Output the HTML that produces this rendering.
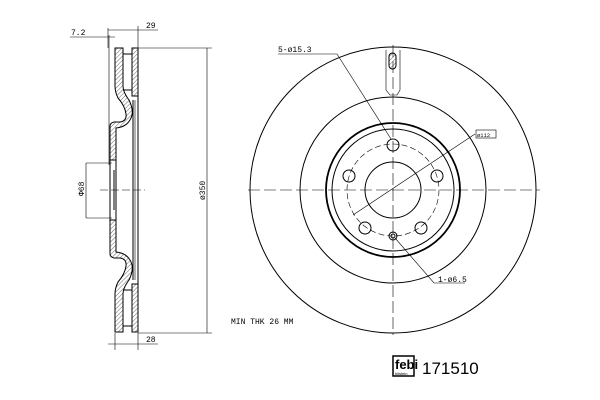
<!DOCTYPE html>
<html><head><style>body{margin:0;background:#fff}svg{display:block}</style></head><body>
<svg width="600" height="400" viewBox="0 0 600 400" xmlns="http://www.w3.org/2000/svg" font-family="Liberation Mono, monospace">
<defs><pattern id="h" width="3" height="3" patternUnits="userSpaceOnUse" patternTransform="rotate(45)"><line x1="0" y1="0" x2="0" y2="3" stroke="#444" stroke-width="0.8"/></pattern></defs>
<g stroke="#000" stroke-width="1" fill="none">
<!-- side view -->
<path d="M115,48 H123 V86 Q123,92 129,100 Q135,112 130,120 Q126,127 116,128 V160 H110 V126 Q110,123 114,122 H120 Q127,121 126,114 Q125,106 118,98 Q115,92 115,86 Z" fill="url(#h)"/>
<path d="M115,332 H123 V294 Q123,288 129,280 Q135,268 130,260 Q126,253 116,252 V220 H110 V254 Q110,257 114,258 H120 Q127,259 126,266 Q125,274 118,282 Q115,288 115,294 Z" fill="url(#h)"/>
<rect x="132" y="48" width="6" height="48" fill="url(#h)"/>
<rect x="132" y="284" width="6" height="48" fill="url(#h)"/>
<line x1="123" y1="54" x2="132" y2="54"/><line x1="123" y1="90" x2="132" y2="90"/>
<line x1="123" y1="326" x2="132" y2="326"/><line x1="123" y1="290" x2="132" y2="290"/>
<line x1="116" y1="128" x2="116" y2="252"/><line x1="133" y1="100" x2="133" y2="280"/><line x1="138" y1="96" x2="138" y2="284"/><line x1="135" y1="100" x2="135" y2="280" stroke-width="0.6"/>
<line x1="110" y1="160" x2="110" y2="220"/>
<line x1="114" y1="170" x2="114" y2="210"/>
<!-- dims -->
<line x1="138" y1="48" x2="212" y2="48" stroke-width="0.6"/><line x1="138" y1="333" x2="212" y2="333" stroke-width="0.6"/>
<line x1="207" y1="48" x2="207" y2="333" stroke-width="0.6"/>
<line x1="70" y1="37" x2="115" y2="37" stroke-width="0.6"/><line x1="108" y1="30" x2="158" y2="30" stroke-width="0.6"/>
<line x1="108" y1="28" x2="108" y2="48" stroke-width="0.6"/><line x1="138" y1="26" x2="138" y2="48" stroke-width="0.6"/>
<line x1="109" y1="35" x2="109" y2="165" stroke-width="0.6"/>
<line x1="108" y1="344" x2="158" y2="344" stroke-width="0.6"/><line x1="115" y1="333" x2="115" y2="350" stroke-width="0.6"/><line x1="138" y1="333" x2="138" y2="350" stroke-width="0.6"/>
<line x1="86" y1="163" x2="86" y2="218" stroke-width="0.6"/><line x1="86" y1="163" x2="112" y2="163" stroke-width="0.6"/><line x1="86" y1="218" x2="112" y2="218" stroke-width="0.6"/>
<line x1="100" y1="190" x2="145" y2="190" stroke-width="0.5" stroke-dasharray="8,3"/>
<!-- front view -->
<circle cx="393" cy="190" r="143"/>
<circle cx="393" cy="190" r="93"/>
<circle cx="393" cy="190" r="67" stroke-width="1.8"/>
<circle cx="393" cy="190" r="61"/>
<circle cx="393" cy="190" r="46" stroke-width="0.6" stroke-dasharray="6,3"/>
<circle cx="393" cy="190" r="28"/>
<circle cx="393" cy="145" r="6"/><circle cx="349" cy="176" r="6"/><circle cx="437" cy="176" r="6"/><circle cx="365" cy="228" r="6"/><circle cx="421" cy="228" r="6"/>
<circle cx="393" cy="236" r="4"/><circle cx="393" cy="236" r="2"/>
<rect x="389" y="53" width="7" height="16" rx="3.5" fill="url(#h)"/>
<path d="M386,50 V90 L390,95 H397 L400,90 V50" stroke-width="0.6"/>
<line x1="248" y1="190" x2="540" y2="190" stroke-width="0.6" stroke-dasharray="12,4"/>
<line x1="393" y1="45" x2="393" y2="335" stroke-width="0.6" stroke-dasharray="12,4"/>
<polyline points="278,54 337,54 391,139" stroke-width="0.6"/>
<line x1="353" y1="215" x2="475" y2="134" stroke-width="0.6"/>
<rect x="476" y="130" width="20" height="8" stroke-width="0.6"/>
<polyline points="395,238 434,283 465,283" stroke-width="0.6"/>
<!-- logo -->
<rect x="393" y="356" width="21" height="20" fill="#fff" stroke-width="1.5"/>
</g>
<g font-size="8" fill="#000">
<text x="71" y="35">7.2</text><text x="146" y="28">29</text><text x="146" y="342">28</text>
<text x="278" y="52">5-ø15.3</text>
<text x="477" y="137" font-size="5.5">ø112</text>
<text x="438" y="282">1-ø6.5</text>
<text x="231" y="324">MIN THK 26 MM</text>
<text transform="translate(84,196) rotate(-90)">Φ68</text>
<text transform="translate(205,200) rotate(-90)">ø350</text>
</g>
<text x="395" y="369" font-family="Liberation Sans, sans-serif" font-weight="bold" font-size="13">febi</text>
<text x="395" y="375" font-family="Liberation Sans, sans-serif" font-size="4">bilstein</text>
<text x="422" y="374" font-family="Liberation Sans, sans-serif" font-size="17">171510</text>
</svg>
</body></html>
